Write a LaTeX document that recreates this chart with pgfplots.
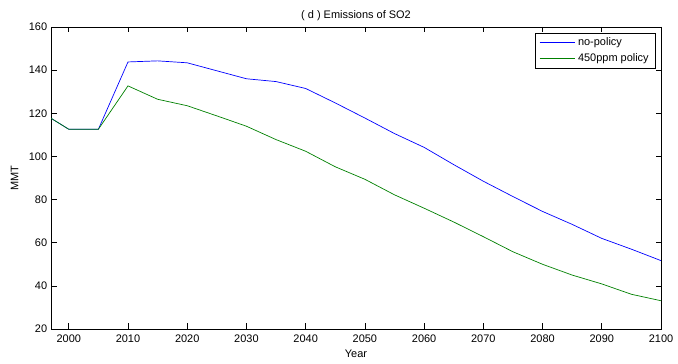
\documentclass[border=0pt]{standalone}
\usepackage{pgfplots}
\pgfplotsset{compat=1.18}
\usepackage{fontspec}
\setmainfont{Liberation Sans}
\begin{document}
\fontsize{11}{13}\selectfont
\begin{tikzpicture}
\begin{axis}[
  scale only axis,
  width=610bp, height=302bp,
  xmin=1997, xmax=2100, ymin=20, ymax=160,
  xtick={2000,2010,...,2100},
  ytick={20,40,...,160},
  /pgf/number format/assume math mode=true,
  xticklabel style={/pgf/number format/1000 sep={}},
  tick align=inside,
  major tick length=5.5bp,
  tick style={black, line width=0.6bp},
  axis line style={black, line width=0.9bp},
  ticklabel style={font=\fontsize{11}{13}\selectfont},
  xticklabel style={yshift=-2bp},
  yticklabel style={xshift=0bp},
  title={( d ) Emissions of SO2},
  title style={font=\fontsize{11}{13}\selectfont, yshift=-4bp},
  xlabel={Year},
  ylabel={MMT},
  label style={font=\fontsize{11}{13}\selectfont},
  xlabel style={yshift=0bp},
  ylabel style={yshift=3bp},
  legend style={at={(0.992,0.98)}, anchor=north east, draw=black, line width=0.8bp,
    font=\fontsize{11}{13}\selectfont, inner xsep=4bp, inner ysep=3bp, row sep=3.5bp,
    nodes={inner xsep=3bp, inner ysep=1.5bp}},
  legend cell align=left,
  legend image code/.code={\draw[#1, line width=0.8bp] (0bp,0bp) -- (35bp,0bp);},
]
\addplot[color={rgb,255:red,0;green,0;blue,255}, line width=0.7bp] coordinates {
(1997,117.7) (2000,112.6) (2005,112.6) (2010,143.8) (2015,144.3) (2020,143.4)
(2025,139.7) (2030,136.0) (2035,134.7) (2040,131.5) (2045,124.8) (2050,117.8)
(2055,110.6) (2060,104.2) (2065,96.2) (2070,88.5) (2075,81.4) (2080,74.5)
(2085,68.5) (2090,62.0) (2095,57.0) (2100,51.7)
};
\addlegendentry{no-policy}
\addplot[color={rgb,255:red,0;green,128;blue,0}, line width=0.7bp] coordinates {
(1997,117.7) (2000,112.6) (2005,112.6) (2010,132.7) (2015,126.5) (2020,123.5)
(2025,118.8) (2030,114.0) (2035,107.8) (2040,102.4) (2045,95.2) (2050,89.4)
(2055,82.2) (2060,76.0) (2065,69.6) (2070,62.8) (2075,55.8) (2080,50.0)
(2085,45.0) (2090,40.9) (2095,36.1) (2100,33.1)
};
\addlegendentry{450ppm policy}
\end{axis}
\pgfresetboundingbox
\path (current axis.south west) ++(-51bp,-35bp);
\path (current axis.north east) ++(17bp,27bp);
\end{tikzpicture}
\end{document}
